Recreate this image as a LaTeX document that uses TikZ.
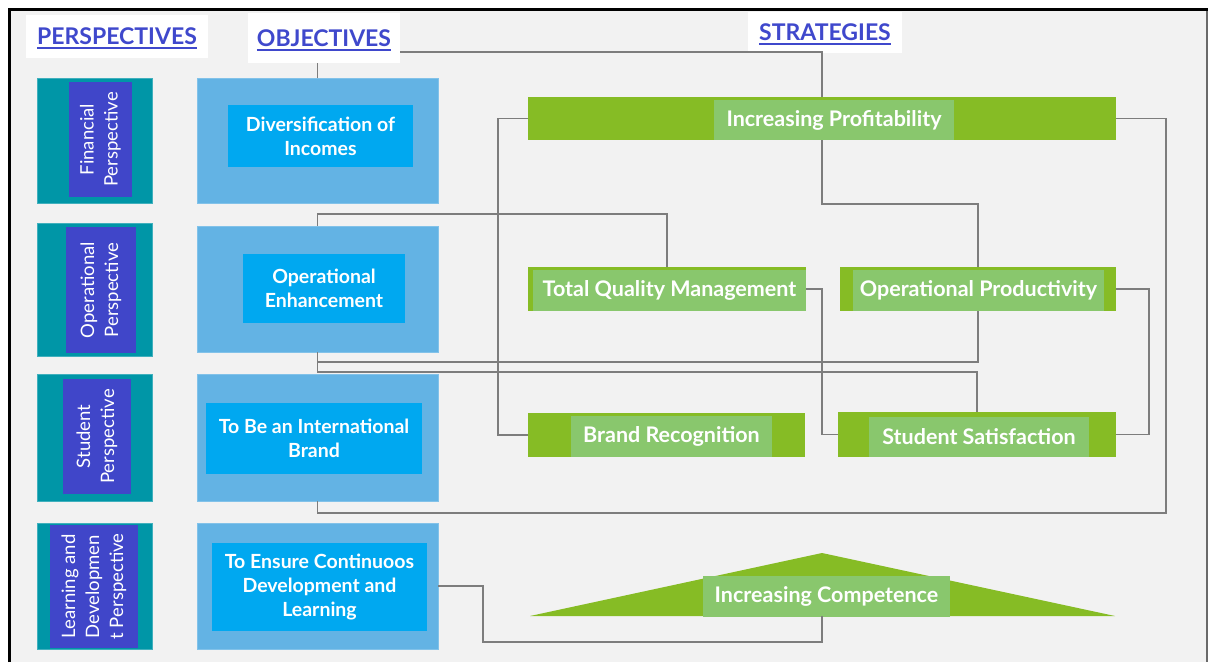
\documentclass[tikz,border=0pt]{standalone}
\usepackage{fontspec}
\setmainfont{Lato}
\usetikzlibrary{calc}

\definecolor{bgc}{RGB}{242,242,242}
\definecolor{tealc}{RGB}{0,150,167}
\definecolor{purp}{RGB}{64,70,201}
\definecolor{lblue}{RGB}{99,179,228}
\definecolor{bblue}{RGB}{0,168,240}
\definecolor{gdark}{RGB}{134,188,37}
\definecolor{glight}{RGB}{137,199,109}
\definecolor{hblue}{RGB}{63,72,204}
\definecolor{lineg}{RGB}{125,125,125}

% underlined heading text with a thick rule that adds no depth
\newcommand\hdrul[1]{\setbox0\hbox{#1}\rlap{\copy0}\smash{\rule[-4.5pt]{\wd0}{1.6pt}}}

\begin{document}
\begin{tikzpicture}[x=1pt,y=-1pt,
  box/.style={inner sep=0pt, outer sep=0pt, anchor=center},
  hdr/.style={box, fill=white, text=hblue, font=\bfseries\fontsize{23}{28}\selectfont},
  tealbox/.style={box, fill=tealc, draw=tealc!75!white, line width=0.8pt},
  persp/.style={box, fill=purp, text=white, rotate=90, align=center,
                font=\fontsize{18.5}{24}\selectfont},
  objout/.style={box, fill=lblue, draw=lblue!80!white, line width=0.6pt},
  objin/.style={box, fill=bblue, text=white, align=center,
                font=\bfseries\fontsize{19.5}{24}\selectfont},
  stdark/.style={box, fill=gdark},
  stlight/.style={box, fill=glight, text=white,
                  font=\bfseries\fontsize{21.5}{26}\selectfont},
  conn/.style={draw=lineg, line width=1.5pt}
]
\useasboundingbox (0,0) rectangle (1208,662);

% page frame
\fill[white] (0,0) rectangle (1208,662);
\fill[bgc] (10,10) rectangle (1207,662);
\draw[black, line width=3pt] (9.5,662) -- (9.5,9.5) -- (1208,9.5);
\draw[lineg!85!black, line width=2pt] (1206.5,11) -- (1206.5,662);

% column headings
\node[hdr, minimum width=182, minimum height=43] (hPer) at (117,36) {\hdrul{PERSPECTIVES}};
\node[hdr, minimum width=152, minimum height=50] (hObj) at (324,38) {\hdrul{OBJECTIVES}};
\node[hdr, minimum width=154, minimum height=41] (hStr) at (825,32) {\hdrul{STRATEGIES}};

% perspectives
\node[tealbox, minimum width=115, minimum height=125] (tFin) at (94.5,140.5) {};
\node[persp, minimum width=115, minimum height=63] (pFin) at (100.5,139.5) {Financial\\Perspective};
\node[tealbox, minimum width=115, minimum height=133] (tOp) at (94.5,289.5) {};
\node[persp, minimum width=126, minimum height=70] (pOp) at (101,290) {Operational\\Perspective};
\node[tealbox, minimum width=115, minimum height=127] (tStu) at (94.5,437.5) {};
\node[persp, minimum width=115, minimum height=68] (pStu) at (97,436.5) {Student\\Perspective};
\node[tealbox, minimum width=115, minimum height=126] (tLD) at (94.5,586) {};
\node[persp, minimum width=123, minimum height=88] (pLD) at (94,586.5) {Learning and\\Developmen\\t Perspective};

% objectives
\node[objout, minimum width=241, minimum height=125] (oFin) at (317.5,140.5) {};
\node[objin, minimum width=185, minimum height=62] (iFin) at (320.5,136) {Diversification of\\Incomes};
\node[objout, minimum width=241, minimum height=126] (oOp) at (317.5,289) {};
\node[objin, minimum width=162, minimum height=69] (iOp) at (324,288.5) {Operational\\Enhancement};
\node[objout, minimum width=241, minimum height=127] (oStu) at (317.5,437.5) {};
\node[objin, minimum width=216, minimum height=71] (iStu) at (314,438.5) {To Be an International\\Brand};
\node[objout, minimum width=241, minimum height=126] (oLD) at (317.5,586) {};
\node[objin, minimum width=215, minimum height=88] (iLD) at (319.5,587) {To Ensure Continuoos\\Development and\\Learning};

% strategies
\node[stdark, minimum width=588, minimum height=43] (sProf) at (822,118.5) {};
\node[stlight, minimum width=240, minimum height=40] (lProf) at (834,120) {Increasing Profitability};
\node[stdark, minimum width=278, minimum height=44] (sTQM) at (667,289) {};
\node[stlight, minimum width=273, minimum height=41] (lTQM) at (669.5,290.5) {Total Quality Management};
\node[stdark, minimum width=276, minimum height=44] (sOP) at (978,289) {};
\node[stlight, minimum width=251, minimum height=41] (lOP) at (978.5,290.5) {Operational Productivity};
\node[stdark, minimum width=277, minimum height=44] (sBrand) at (666.5,435) {};
\node[stlight, minimum width=201, minimum height=41] (lBrand) at (671.5,436.5) {Brand Recognition};
\node[stdark, minimum width=278, minimum height=45] (sStu) at (977,434.5) {};
\node[stlight, minimum width=220, minimum height=40] (lStu) at (979,437) {Student Satisfaction};
\fill[gdark] (530,616) -- (822,553) -- (1115,616) -- cycle;
\coordinate (sComp) at (822,616);
\node[stlight, minimum width=247, minimum height=41] (lComp) at (826.5,596.5) {Increasing Competence};

% connectors
\draw[conn] (oFin.north) -- (oFin.north |- hObj.south);
\draw[conn] ([yshift=-14pt]hObj.east) -| (sProf.north);
\draw[conn] (sProf.west) -- ++(-30,0) |- (sBrand.west);
\draw[conn] (sProf.east) -- ++(50,0) |- ([yshift=-12pt]oStu.south) -- (oStu.south);
\draw[conn] (sProf.south) -- ++(0,64) -| (sOP.north);
\draw[conn] (sTQM.north) |- ([yshift=12pt]oOp.north) -- (oOp.north);
\draw[conn] (sTQM.east) -- ++(16,0) |- (sStu.west);
\draw[conn] (sOP.east) -- ++(33,0) |- (sStu.east);
\draw[conn] (sOP.south) |- ([yshift=-10pt]oOp.south) -- (oOp.south);
\draw[conn] (oOp.south) -- ([yshift=-20pt]oOp.south) -| (sStu.north);
\draw[conn] (oLD.east) -- ++(45,0) |- ([yshift=-26pt]sComp) -- (sComp);
\end{tikzpicture}
\end{document}
